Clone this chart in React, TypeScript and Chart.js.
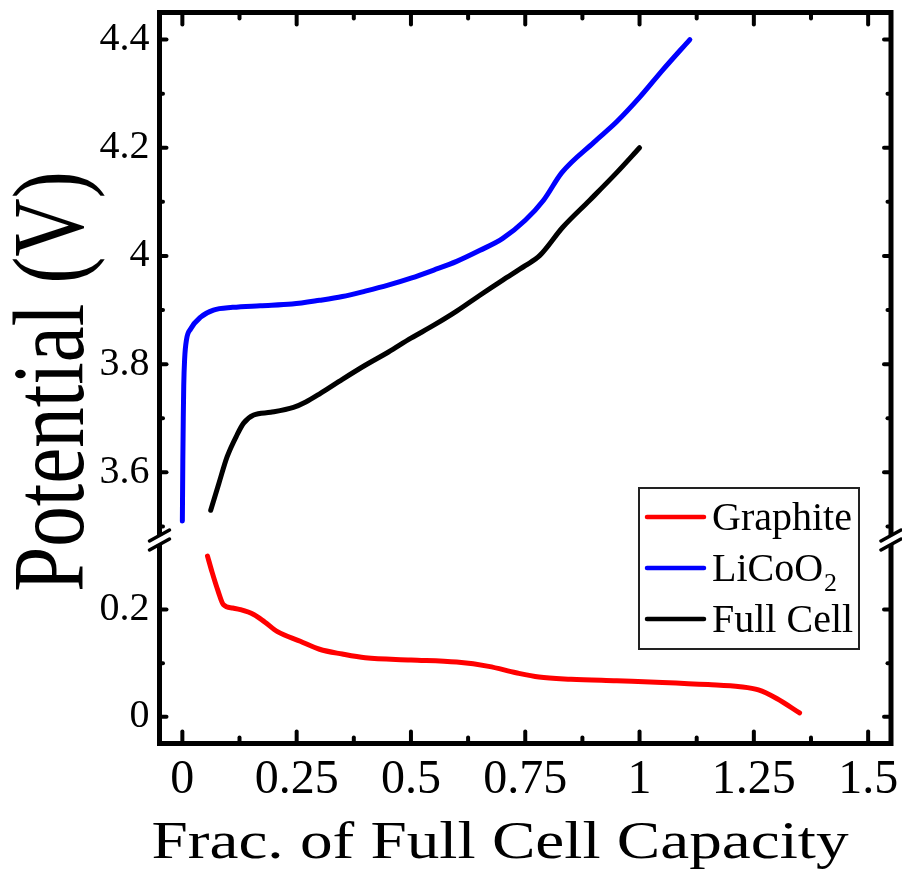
import React, { useEffect, useRef } from 'react';
import { Chart, registerables } from 'chart.js';

Chart.register(...registerables);

// ---- data (fraction of full-cell capacity vs. potential) ----
const graphiteX = [0.055, 0.065, 0.078, 0.09, 0.11, 0.127, 0.156, 0.18, 0.208, 0.258, 0.3, 0.35, 0.4, 0.5, 0.6, 0.67, 0.73, 0.78, 0.85, 0.95, 1.05, 1.15, 1.22, 1.26, 1.3, 1.35];
const graphiteV = [0.3, 0.27, 0.235, 0.209, 0.203, 0.2, 0.191, 0.177, 0.159, 0.141, 0.126, 0.117, 0.11, 0.106, 0.102, 0.094, 0.082, 0.074, 0.07, 0.067, 0.064, 0.06, 0.056, 0.05, 0.034, 0.007];

const licooX = [0, 0.001, 0.002, 0.003, 0.005, 0.009, 0.018, 0.04, 0.068, 0.11, 0.17, 0.24, 0.3, 0.35, 0.4, 0.45, 0.5, 0.55, 0.6, 0.65, 0.7, 0.75, 0.79, 0.83, 0.9, 0.95, 1.0, 1.05, 1.11];
const licooV = [3.51, 3.62, 3.7, 3.76, 3.81, 3.845, 3.865, 3.887, 3.9, 3.905, 3.908, 3.911, 3.918, 3.925, 3.935, 3.946, 3.959, 3.974, 3.99, 4.01, 4.032, 4.066, 4.103, 4.154, 4.21, 4.248, 4.293, 4.343, 4.4];

const fullX = [0.062, 0.08, 0.098, 0.12, 0.134, 0.156, 0.193, 0.243, 0.27, 0.302, 0.35, 0.4, 0.45, 0.5, 0.55, 0.6, 0.65, 0.7, 0.75, 0.782, 0.832, 0.891, 0.95, 1.0];
const fullV = [3.53, 3.58, 3.629, 3.67, 3.691, 3.706, 3.711, 3.72, 3.73, 3.746, 3.772, 3.798, 3.822, 3.848, 3.872, 3.898, 3.927, 3.955, 3.982, 4.001, 4.053, 4.103, 4.154, 4.2];

const seriesLabels = ['Graphite', 'LiCoO2', 'Full Cell'];
const seriesColors = ['#ff0000', '#0000ff', '#000000'];

// ---- axes ----
const xTicks = [0, 0.25, 0.5, 0.75, 1, 1.25, 1.5];
const xMinorTicks = [0.125, 0.375, 0.625, 0.875, 1.125, 1.375];
const upperTicks = [3.6, 3.8, 4, 4.2, 4.4];
const upperMinorTicks = [3.5, 3.7, 3.9, 4.1, 4.3];
const lowerTicks = [0, 0.2];
const lowerMinorTicks = [0.1];

const xTitle = 'Frac. of Full Cell Capacity';
const yTitle = 'Potential (V)';

const FONT = '"Liberation Serif", "Times New Roman", Times, serif';

const toPoints = (xs: number[], ys: number[]) => xs.map((x, i) => ({ x, y: ys[i] }));

// frame, inward ticks, axis break, legend and axis titles
const decorPlugin = {
  id: 'decor',
  afterDraw(chart: any) {
    const { ctx, chartArea: a, scales } = chart;
    const sx = scales.x;
    const yt = scales.yTop;
    const yb = scales.yBot;
    ctx.save();

    const seg = (x1: number, y1: number, x2: number, y2: number) => {
      ctx.beginPath();
      ctx.moveTo(x1, y1);
      ctx.lineTo(x2, y2);
      ctx.stroke();
    };

    // ticks pointing inward on all four sides
    ctx.strokeStyle = '#000';
    ctx.lineCap = 'round';
    ctx.lineWidth = 4;
    const xTick = (vals: number[], len: number) =>
      vals.forEach((v) => {
        const px = sx.getPixelForValue(v);
        seg(px, a.bottom, px, a.bottom - len);
        seg(px, a.top, px, a.top + len);
      });
    xTick(xTicks, 12);
    xTick(xMinorTicks, 6);
    const yTick = (scale: any, vals: number[], len: number) =>
      vals.forEach((v) => {
        const py = scale.getPixelForValue(v);
        seg(a.left, py, a.left + len, py);
        seg(a.right, py, a.right - len, py);
      });
    yTick(yt, upperTicks, 7);
    yTick(yt, upperMinorTicks, 3.5);
    yTick(yb, lowerTicks, 7);
    yTick(yb, lowerMinorTicks, 3.5);

    // box
    ctx.lineCap = 'butt';
    ctx.lineJoin = 'miter';
    ctx.lineWidth = 5;
    ctx.strokeRect(a.left, a.top, a.right - a.left, a.bottom - a.top);

    // axis break marks
    const by = yt.bottom;
    [a.left, a.right].forEach((bx) => {
      ctx.fillStyle = '#fff';
      ctx.beginPath();
      ctx.moveTo(bx - 10, by + 1);
      ctx.lineTo(bx + 10, by - 10);
      ctx.lineTo(bx + 10, by - 1);
      ctx.lineTo(bx - 10, by + 10);
      ctx.closePath();
      ctx.fill();
      ctx.strokeStyle = '#000';
      ctx.lineWidth = 3.5;
      ctx.lineCap = 'round';
      seg(bx - 10, by + 1, bx + 10, by - 10);
      seg(bx - 10, by + 10, bx + 10, by - 1);
    });

    // legend
    const lx = 639, ly = 488, lw = 220, lh = 161;
    ctx.fillStyle = '#fff';
    ctx.fillRect(lx, ly, lw, lh);
    ctx.strokeStyle = '#222';
    ctx.lineWidth = 2;
    ctx.strokeRect(lx, ly, lw, lh);
    seriesLabels.forEach((label, i) => {
      const rowY = 517 + i * 51;
      ctx.strokeStyle = seriesColors[i];
      ctx.lineWidth = 4.5;
      ctx.lineCap = 'round';
      seg(647, rowY, 704, rowY);
      ctx.fillStyle = '#000';
      ctx.textAlign = 'left';
      ctx.textBaseline = 'alphabetic';
      const m = label.match(/^(.*?)(\d+)$/);
      const main = m ? m[1] : label;
      ctx.font = `40px ${FONT}`;
      ctx.fillText(main, 712, rowY + 13);
      if (m) {
        const w = ctx.measureText(main).width;
        ctx.font = `26px ${FONT}`;
        ctx.fillText(m[2], 712 + w + 1, rowY + 23);
      }
    });

    // axis titles
    ctx.fillStyle = '#000';
    ctx.textAlign = 'center';
    ctx.textBaseline = 'alphabetic';
    ctx.save();
    ctx.translate(500, 858);
    ctx.scale(1.23, 1);
    ctx.font = `53px ${FONT}`;
    ctx.fillText(xTitle, 0, 0);
    ctx.restore();

    ctx.save();
    ctx.translate(83, 381.5);
    ctx.scale(1.26, 1);
    ctx.rotate(-Math.PI / 2);
    ctx.font = `81px ${FONT}`;
    ctx.fillText(yTitle, 0, 0);
    ctx.restore();

    ctx.restore();
  },
};

const fmt = (v: number | string) => String(v);

const noEdgePadding = (s: any) => {
  s.paddingTop = 0;
  s.paddingBottom = 0;
  s.paddingLeft = 0;
  s.paddingRight = 0;
};

export default function App() {
  const ref = useRef<HTMLCanvasElement>(null);

  useEffect(() => {
    if (!ref.current) return;
    const common = {
      type: 'line' as const,
      pointRadius: 0,
      borderWidth: 5,
      fill: false,
      cubicInterpolationMode: 'monotone' as const,
      borderCapStyle: 'round' as const,
      borderJoinStyle: 'round' as const,
    };
    const yTickOpts = { color: '#000', font: { family: FONT, size: 40 }, padding: 10, callback: fmt };
    const chart = new Chart(ref.current, {
      type: 'line',
      data: {
        datasets: [
          { ...common, label: seriesLabels[0], data: toPoints(graphiteX, graphiteV), borderColor: seriesColors[0], yAxisID: 'yBot' },
          { ...common, label: seriesLabels[1], data: toPoints(licooX, licooV), borderColor: seriesColors[1], yAxisID: 'yTop' },
          { ...common, label: seriesLabels[2], data: toPoints(fullX, fullV), borderColor: seriesColors[2], yAxisID: 'yTop' },
        ],
      },
      options: {
        animation: false,
        responsive: false,
        devicePixelRatio: 1,
        layout: { padding: { top: 12.5, right: 11, left: 0, bottom: 0 } },
        plugins: { legend: { display: false }, tooltip: { enabled: false } },
        scales: {
          x: {
            type: 'linear',
            min: -0.05,
            max: 1.55,
            afterBuildTicks: (s: any) => {
              s.ticks = xTicks.map((value) => ({ value }));
            },
            afterFit: (s: any) => {
              s.height = 136.5;
              noEdgePadding(s);
            },
            grid: { display: false, drawTicks: false },
            border: { display: false },
            ticks: {
              color: '#000',
              font: { family: FONT, size: 48 },
              padding: 8,
              maxRotation: 0,
              autoSkip: false,
              callback: fmt,
            },
          },
          // lower segment of the broken potential axis
          yBot: {
            type: 'linear',
            position: 'left',
            stack: 'potential',
            stackWeight: 203.5,
            min: -0.05,
            max: 0.33,
            afterBuildTicks: (s: any) => {
              s.ticks = lowerTicks.map((value) => ({ value }));
            },
            afterFit: (s: any) => {
              s.width = 159.5;
              noEdgePadding(s);
            },
            grid: { display: false, drawTicks: false },
            border: { display: false },
            ticks: yTickOpts,
          },
          // upper segment of the broken potential axis
          yTop: {
            type: 'linear',
            position: 'left',
            stack: 'potential',
            stackWeight: 527.5,
            min: 3.475,
            max: 4.45,
            afterBuildTicks: (s: any) => {
              s.ticks = upperTicks.map((value) => ({ value }));
            },
            afterFit: (s: any) => {
              s.width = 159.5;
              noEdgePadding(s);
            },
            grid: { display: false, drawTicks: false },
            border: { display: false },
            ticks: yTickOpts,
          },
        },
      },
      plugins: [decorPlugin],
    } as any);
    return () => chart.destroy();
  }, []);

  return (
    <div style={{ position: 'absolute', left: 0, top: 0, width: 902, height: 880, background: '#fff' }}>
      <canvas ref={ref} width={902} height={880} style={{ display: 'block' }} />
    </div>
  );
}
